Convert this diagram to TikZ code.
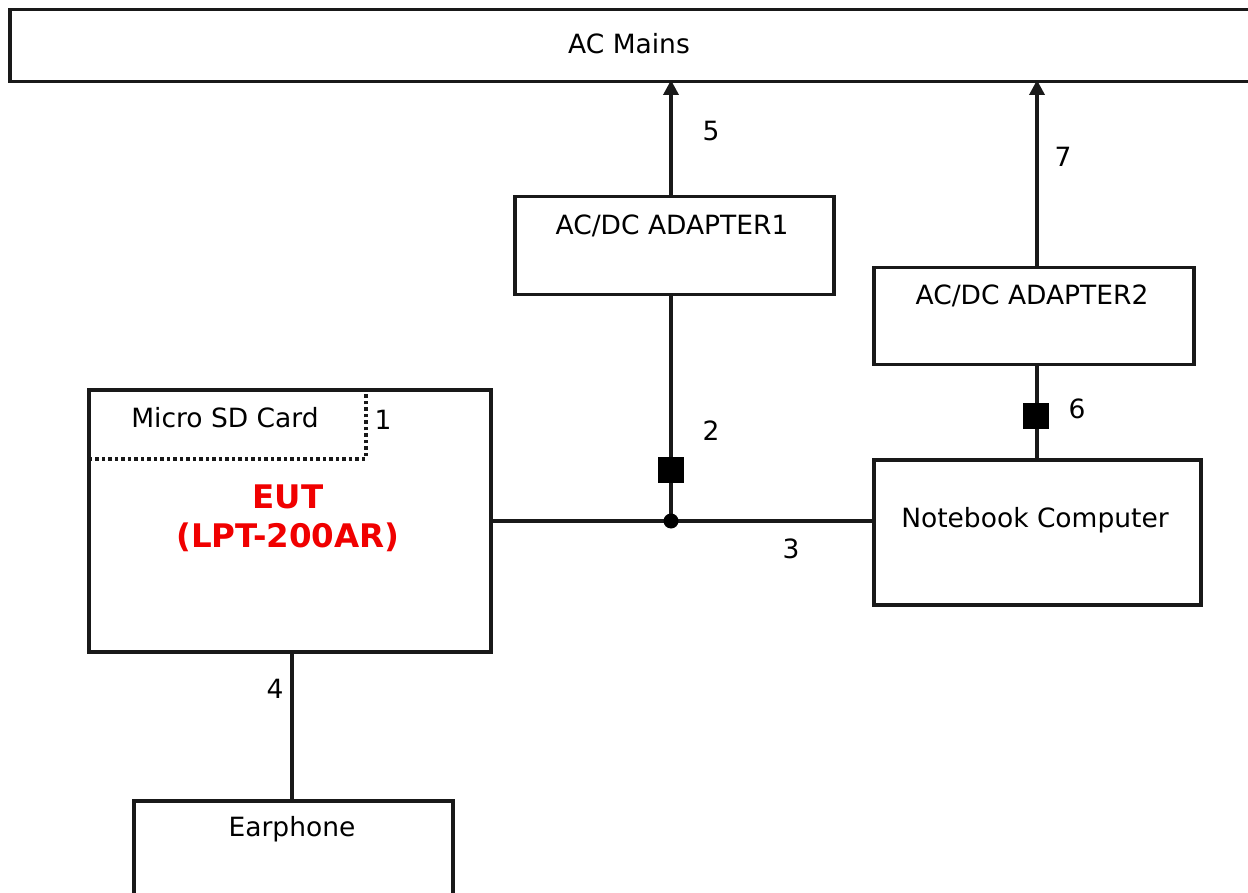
\documentclass[tikz,border=0pt]{standalone}
\usepackage{fontspec}
\setmainfont{DejaVu Sans}
\usetikzlibrary{arrows.meta}
\definecolor{eutred}{RGB}{240,0,0}
\tikzset{
  box/.style={draw=black!90, line width=3.5pt, inner sep=0pt, anchor=north west},
  dotbox/.style={draw=black!90, line width=3.5pt, dash pattern=on 3.5pt off 3pt, inner sep=0pt, anchor=north west},
  wire/.style={draw=black!90, line width=3.5pt},
  arr/.style={wire, -{Triangle[length=15pt,width=15pt]}},
  txt/.style={font=\fontsize{26.5}{31}\selectfont, inner sep=0pt},
  euttxt/.style={font=\fontsize{32.5}{39}\selectfont\bfseries, text=eutred, align=center, inner sep=0pt},
  ferrite/.style={fill=black, minimum size=26pt, inner sep=0pt},
}
\begin{document}
\begin{tikzpicture}[x=1pt,y=-1pt]
\useasboundingbox (0,0) rectangle (1248,893);
\clip (0,0) rectangle (1248,893);
% boxes
\node[box, minimum width=1262pt, minimum height=72pt] (mains) at (8,8) {};
\node[box, minimum width=319pt, minimum height=98pt] (ad1) at (513,195) {};
\node[box, minimum width=320pt, minimum height=97pt] (ad2) at (872,266) {};
\node[box, minimum width=327pt, minimum height=145pt] (nb) at (872,458) {};
\node[box, minimum width=402pt, minimum height=262pt] (eut) at (87,388) {};
\node[dotbox, minimum width=277pt, minimum height=69pt] (sd) at (87,388) {};
\node[box, minimum width=319pt, minimum height=120pt] (ear) at (132,799) {};
% texts
\node[txt] (tmains) at (629,44) {AC Mains};
\node[txt] (tad1) at (672,226) {AC/DC ADAPTER1};
\node[txt] (tad2) at (1032,296) {AC/DC ADAPTER2};
\node[txt] (tnb) at (1035,520) {Notebook Computer};
\node[txt] (tsd) at (225,418) {Micro SD Card};
\node[txt] (tear) at (292,829) {Earphone};
\node[euttxt] (teut) at (288,518) {EUT\\(LPT-200AR)};
% connection points
\coordinate (j) at (671,521);
\coordinate (m1) at (671,80);
\coordinate (m2) at (1037,80);
% wires
\draw[arr] (ad1.north -| m1) -- (m1);
\draw[arr] (ad2.north -| m2) -- (m2);
\draw[wire] (ad1.south -| j) -- (j);
\draw[wire] (eut.east |- j) -- (nb.west |- j);
\draw[wire] (ad2.south -| m2) -- (nb.north -| m2);
\draw[wire] (eut.south -| tear) -- (ear.north -| tear);
\fill[black] (j) circle (7.5pt);
\node[ferrite] (f2) at (671,470) {};
\node[ferrite] (f6) at (1036,416) {};
% numbers
\node[txt] (n1) at (383,420) {1};
\node[txt] (n2) at (711,431) {2};
\node[txt] (n3) at (791,549) {3};
\node[txt] (n4) at (275,689) {4};
\node[txt] (n5) at (711,131) {5};
\node[txt] (n6) at (1077,409) {6};
\node[txt] (n7) at (1063,157) {7};
\end{tikzpicture}
\end{document}
